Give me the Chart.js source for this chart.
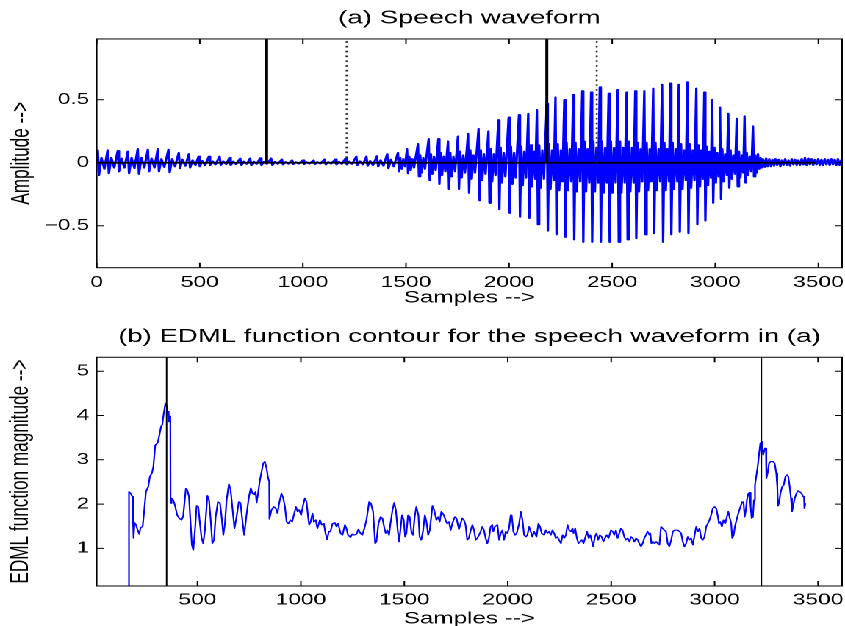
<!DOCTYPE html>
<html>
<head>
<meta charset="utf-8">
<script src="https://cdn.jsdelivr.net/npm/chart.js@4.4.1/dist/chart.umd.min.js"></script>
<style>
  html, body { margin: 0; padding: 0; background: #fff; }
  body { width: 845px; height: 626px; overflow: hidden; position: relative; }
  /* the figure is laid out at 575px and widened to the 845px window */
  #stage { position: absolute; left: 0; top: 0; width: 575px; height: 626px;
           transform: scaleX(1.4696); transform-origin: 0 0; }
  #c1 { position: absolute; left: 0; top: 0; }
  #c2 { position: absolute; left: 0; top: 313px; }
</style>
</head>
<body>
<div id="stage">
  <canvas id="c1" width="575" height="313"></canvas>
  <canvas id="c2" width="575" height="320"></canvas>
</div>
<script>
// ---------- (a) speech waveform: turning points [sample, amplitude] ----------
const waveLeadIn = [
  [0,0.02],
  [5,0.10],[11,-0.10],[23,0.04],[37,-0.05],
  [53,0.10],[59,-0.085],[71,0.04],[85,-0.04],
  [102,0.095],[108,-0.07],[120,0.035],[134,-0.04],
  [151,0.09],[157,-0.085],[169,0.04],[183,-0.045],
  [199,0.11],[205,-0.09],[217,0.04],[231,-0.04],
  [248,0.105],[254,-0.07],[266,0.035],[280,-0.04],
  [296,0.11],[302,-0.07],[314,0.03],[328,-0.035],
  [348,0.105],[354,-0.077],[366,0.03],[380,-0.03],
  [398,0.08],[404,-0.045],[416,0.025],[430,-0.025],
  [447,0.07],[453,-0.04],[465,0.02],[479,-0.02],
  [494,0.05],[500,-0.03],[512,0.015],[526,-0.02],
  [544,0.05],[550,-0.02],[562,0.012],[576,-0.015],
  [596,0.05],[602,-0.02],[614,0.012],[628,-0.012],
  [644,0.04],[650,-0.02],[662,0.01],[676,-0.012],
  [696,0.035],[702,-0.02],[714,0.01],[728,-0.01],
  [744,0.035],[750,-0.02],[762,0.01],[776,-0.01],
  [793,0.037],[799,-0.02],[811,0.008],[825,-0.01],
  [846,0.035],[852,-0.02],[864,0.008],[878,-0.01],
  [898,0.027],[904,-0.015],[916,0.006],[930,-0.008],
  [948,0.02],[954,-0.012],[966,0.005],[980,-0.008],
  [1000,0.02],[1006,-0.012],[1018,0.005],[1032,-0.008],
  [1052,0.02],[1058,-0.012],[1070,0.006],[1084,-0.008],
  [1105,0.027],[1111,-0.015],[1123,0.006],[1137,-0.008],
  [1157,0.027],[1163,-0.015],[1175,0.008],[1189,-0.01],
  [1207,0.035],[1213,-0.015],[1225,0.01],[1239,-0.01],
  [1259,0.05],[1265,-0.02],[1277,0.012],[1291,-0.015],
  [1308,0.05],[1314,-0.025],[1326,0.015],[1340,-0.02],
  [1359,0.053],[1365,-0.03],[1377,0.02],[1391,-0.025],
  [1409,0.07],[1415,-0.045],[1427,0.025],[1441,-0.03]
];
const waveVoiced = [
  [1461,0.08],[1466,-0.07],[1472,0.04],[1479,-0.05],[1487,0.03],[1495,-0.03],
  [1505,0.11],[1510,-0.085],[1516,0.05],[1523,-0.06],[1531,0.03],[1539,-0.04],
  [1558,0.15],[1563,-0.11],[1569,0.06],[1576,-0.08],[1584,0.04],[1592,-0.05],
  [1610,0.19],[1615,-0.14],[1621,0.07],[1628,-0.09],[1636,0.05],[1644,-0.06],
  [1657,0.19],[1662,-0.17],[1668,0.08],[1675,-0.10],[1683,0.05],[1691,-0.07],
  [1704,0.17],[1709,-0.21],[1715,0.08],[1722,-0.11],[1730,0.05],[1738,-0.07],
  [1752,0.21],[1757,-0.21],[1763,0.09],[1770,-0.12],[1778,0.06],[1786,-0.08],
  [1801,0.23],[1806,-0.24],[1812,0.10],[1819,-0.13],[1827,0.06],[1835,-0.08],
  [1852,0.27],[1857,-0.30],[1863,0.10],[1870,-0.14],[1878,0.07],[1886,-0.09],
  [1900,0.25],[1905,-0.32],[1911,0.11],[1918,-0.15],[1926,0.07],[1934,-0.10],
  [1948,0.34],[1953,-0.37],[1959,0.12],[1966,-0.16],[1974,0.08],[1982,-0.11],
  [1998,0.36],[2003,-0.40],[2009,0.13],[2016,-0.17],[2024,0.08],[2032,-0.12],
  [2048,0.38],[2053,-0.43],[2059,0.13],[2066,-0.18],[2074,0.09],[2082,-0.12],
  [2093,0.39],[2098,-0.44],[2104,0.14],[2111,-0.19],[2119,0.09],[2127,-0.13],
  [2135,0.42],[2140,-0.49],[2146,0.14],[2153,-0.20],[2161,0.10],[2169,-0.13],
  [2183,0.47],[2188,-0.54],[2194,0.15],[2201,-0.21],[2209,0.10],[2217,-0.14],
  [2225,0.52],[2230,-0.57],[2236,0.15],[2243,-0.22],[2251,0.10],[2259,-0.15],
  [2268,0.50],[2273,-0.59],[2279,0.16],[2286,-0.22],[2294,0.11],[2302,-0.15],
  [2311,0.54],[2316,-0.61],[2322,0.16],[2329,-0.23],[2337,0.11],[2345,-0.15],
  [2355,0.57],[2360,-0.63],[2366,0.17],[2373,-0.23],[2381,0.11],[2389,-0.16],
  [2398,0.56],[2403,-0.63],[2409,0.17],[2416,-0.23],[2424,0.12],[2432,-0.16],
  [2440,0.60],[2445,-0.63],[2451,0.17],[2458,-0.24],[2466,0.12],[2474,-0.16],
  [2483,0.55],[2488,-0.63],[2494,0.17],[2501,-0.24],[2509,0.12],[2517,-0.16],
  [2527,0.58],[2532,-0.63],[2538,0.17],[2545,-0.24],[2553,0.12],[2561,-0.16],
  [2570,0.56],[2575,-0.61],[2581,0.17],[2588,-0.23],[2596,0.12],[2604,-0.16],
  [2612,0.57],[2617,-0.60],[2623,0.16],[2630,-0.23],[2638,0.11],[2646,-0.15],
  [2656,0.57],[2661,-0.57],[2667,0.16],[2674,-0.22],[2682,0.11],[2690,-0.15],
  [2699,0.59],[2704,-0.56],[2710,0.16],[2717,-0.22],[2725,0.11],[2733,-0.15],
  [2742,0.62],[2747,-0.63],[2753,0.16],[2760,-0.22],[2768,0.11],[2776,-0.15],
  [2782,0.63],[2787,-0.57],[2793,0.16],[2800,-0.21],[2808,0.11],[2816,-0.15],
  [2823,0.62],[2828,-0.55],[2834,0.15],[2841,-0.21],[2849,0.10],[2857,-0.14],
  [2865,0.64],[2870,-0.56],[2876,0.15],[2883,-0.20],[2891,0.10],[2899,-0.14],
  [2908,0.59],[2913,-0.49],[2919,0.14],[2926,-0.19],[2933,0.10],[2940,-0.13],
  [2947,0.56],[2952,-0.46],[2958,0.13],[2965,-0.18],[2972,0.09],[2979,-0.12],
  [2985,0.50],[2990,-0.32],[2996,0.12],[3003,-0.16],[3010,0.08],[3017,-0.11],
  [3023,0.44],[3028,-0.29],[3034,0.11],[3041,-0.15],[3048,0.07],[3056,-0.10],
  [3063,0.39],[3068,-0.20],[3074,0.10],[3081,-0.13],[3088,0.06],[3096,-0.09],
  [3104,0.35],[3109,-0.19],[3115,0.09],[3122,-0.12],[3129,0.06],[3136,-0.08],
  [3142,0.37],[3147,-0.16],[3153,0.08],[3160,-0.10],[3167,0.05],[3175,-0.07],
  [3183,0.29],[3188,-0.11],[3194,0.06],[3201,-0.08],[3207,0.07],[3213,-0.05]
];
const waveTail = [
  [3220,0.04],[3226,-0.04],[3232,0.03],[3240,-0.035],[3247,0.035],[3254,-0.03],
  [3262,0.03],[3270,-0.03],[3277,0.025],[3285,-0.025],[3292,0.03],[3300,-0.02],
  [3308,0.025],[3316,-0.03],[3323,0.02],[3331,-0.02],[3339,0.03],[3347,-0.02],
  [3355,0.02],[3363,-0.025],[3371,0.03],[3379,-0.015],[3387,0.025],[3395,-0.02],
  [3403,0.02],[3411,-0.02],[3419,0.03],[3427,-0.015],[3435,0.04],[3443,-0.02],
  [3451,0.035],[3459,-0.015],[3467,0.03],[3475,-0.02],[3483,0.025],[3491,-0.015],
  [3499,0.03],[3507,-0.02],[3515,0.025],[3523,-0.02],[3531,0.03],[3539,-0.015],
  [3547,0.025],[3555,-0.02],[3563,0.03],[3571,-0.015],[3579,0.025],[3587,-0.02],
  [3595,0.03],[3603,-0.02],[3611,0.02],[3615,0.0]
];
const zeroLineSpan = [0, 3490];          // reference line at amplitude 0
const waveSolidMarks = [824, 2183];      // solid vertical markers
const waveDottedMarks = [1212, 2425];    // dotted vertical markers
const waveXTicks = [0, 500, 1000, 1500, 2000, 2500, 3000, 3500];
const waveYTicks = [-0.5, 0, 0.5];

// ---------- (b) EDML function contour: [sample, magnitude] ----------
const edmlFirstPart = [
  [169,0],[169,2.28],[177,2.24],[185,2.17],[190,1.98],[192,1.23],[196,1.58],[203,1.53],[211,1.41],
  [219,1.32],[225,1.47],[235,1.49],[243,1.87],[251,2.28],[262,2.39],[270,2.62],[280,2.70],[287,2.85],
  [296,3.33],[308,3.39],[316,3.56],[324,3.75],[330,3.79],[336,4.01],[345,4.28],[349,4.26],[356,4.09],
  [361,3.86],[364,3.98],[369,3.99],[370,2.02],[375,2.13],[383,2.09],[391,1.98],[402,1.75],[412,1.68],
  [423,1.64],[431,1.72],[444,2.35],[451,2.32],[459,2.17],[467,1.56],[473,1.08],[480,0.96],[488,1.41],
  [496,1.96],[504,1.94],[512,1.56],[520,1.23],[528,1.11],[536,1.41],[548,2.19],[556,2.09],[564,1.64],
  [572,1.11],[580,1.19],[588,1.71],[599,2.05],[609,2.02],[617,1.71],[625,1.30],[633,1.56],[641,2.09],
  [652,2.45],[660,2.33],[670,1.87],[679,1.45],[689,1.71],[700,2.05],[708,2.03],[718,1.60],[726,1.30],
  [737,1.75],[749,2.17],[758,2.36],[766,2.24],[774,2.21],[781,2.28],[786,2.03],[793,2.24],[802,2.54],
  [810,2.73],[818,2.92],[826,2.96],[834,2.81],[842,2.58],[847,2.51],[848,1.66],[858,1.87],[869,1.94],
  [879,1.90],[887,1.79],[895,2.02],[906,2.24],[915,2.13],[923,1.94],[931,1.60],[940,1.56],[950,1.64],
  [958,1.60],[966,1.75],[976,1.94],[984,1.83],[992,1.87],[1001,1.75],[1011,1.98],[1019,2.13],[1027,2.06],
  [1035,1.71],[1040,1.53],[1047,1.60],[1056,1.79],[1063,1.60],[1072,1.64],[1080,1.45],[1092,1.64],
  [1101,1.53],[1111,1.56],[1119,1.34],[1127,1.20],[1135,1.38],[1143,1.38],[1153,1.56],[1164,1.58],
  [1172,1.49],[1180,1.56],[1192,1.34],[1201,1.30],[1213,1.53],[1220,1.45],[1228,1.30],[1240,1.25],
  [1248,1.32],[1257,1.30],[1269,1.32],[1278,1.43],[1288,1.34],[1297,1.30],[1307,1.45],[1317,1.64],
  [1330,2.05],[1338,2.02],[1349,1.83],[1359,1.11],[1365,1.15],[1375,1.56],[1385,1.71],[1394,1.68],
  [1404,1.45],[1410,1.34],[1418,1.41],[1426,1.30],[1433,1.56],[1443,1.87],[1451,2.03],[1459,1.87],
  [1468,1.41],[1475,1.15],[1481,1.41],[1489,1.75],[1497,1.64],[1504,1.26],[1510,1.34],[1518,1.75],
  [1526,1.71],[1534,1.38],[1542,1.30],[1550,1.71],[1558,1.94],[1568,1.75],[1574,1.26],[1582,1.19],
  [1591,1.41],[1599,1.75],[1607,1.60],[1615,1.30],[1623,1.41],[1636,1.96],[1644,1.87],[1655,1.64],
  [1663,1.71],[1671,1.60],[1679,1.83],[1691,1.75],[1699,1.64],[1707,1.56],[1716,1.60],[1724,1.41],
  [1732,1.56],[1744,1.71],[1752,1.68]
];
const edmlSecondPart = [
  [1764,1.43],[1772,1.56],[1780,1.68],[1788,1.64],[1796,1.53],[1804,1.19],[1812,1.23],[1821,1.41],
  [1829,1.53],[1837,1.41],[1845,1.19],[1853,1.23],[1861,1.30],[1869,1.38],[1877,1.49],[1885,1.41],
  [1893,1.23],[1901,1.11],[1909,1.23],[1917,1.49],[1925,1.53],[1930,1.38],[1938,1.49],[1950,1.53],
  [1958,1.19],[1966,1.34],[1974,1.41],[1982,1.19],[1990,1.38],[1998,1.34],[2006,1.45],[2014,1.75],
  [2019,1.75],[2027,1.38],[2035,1.30],[2043,1.34],[2055,1.56],[2063,1.83],[2071,1.64],[2079,1.30],
  [2087,1.26],[2095,1.30],[2103,1.49],[2111,1.38],[2119,1.26],[2127,1.38],[2139,1.26],[2148,1.56],
  [2156,1.49],[2164,1.34],[2176,1.30],[2184,1.41],[2192,1.34],[2200,1.38],[2208,1.30],[2216,1.41],
  [2224,1.34],[2232,1.23],[2240,1.26],[2248,1.19],[2257,1.11],[2265,1.30],[2273,1.23],[2281,1.30],
  [2289,1.53],[2297,1.41],[2305,1.38],[2313,1.45],[2318,1.34],[2326,1.45],[2334,1.23],[2342,1.11],
  [2350,1.15],[2358,1.19],[2366,1.11],[2374,1.23],[2383,1.38],[2391,1.23],[2399,1.30],[2407,1.15],
  [2413,1.04],[2421,1.26],[2429,1.34],[2437,1.19],[2445,1.30],[2454,1.26],[2462,1.15],[2470,1.23],
  [2478,1.30],[2487,1.23],[2499,1.41],[2507,1.38],[2515,1.30],[2523,1.41],[2531,1.23],[2539,1.34],
  [2547,1.45],[2555,1.41],[2563,1.26],[2571,1.19],[2580,1.23],[2588,1.15],[2596,1.26],[2604,1.23],
  [2612,1.15],[2620,1.23],[2628,1.19],[2636,1.11],[2644,1.04],[2652,1.11],[2660,1.23],[2668,1.30],
  [2676,1.38],[2685,1.30],[2689,1.34],[2694,1.11],[2701,1.15],[2709,1.11],[2717,1.15],[2725,1.11],
  [2733,1.08],[2741,1.49],[2749,1.45],[2757,1.41],[2765,1.38],[2773,1.11],[2781,1.04],[2790,1.19],
  [2798,1.38],[2806,1.41],[2814,1.41],[2822,1.41],[2830,1.38],[2838,1.34],[2846,1.15],[2854,1.04],
  [2862,1.11],[2870,1.26],[2878,1.19],[2886,1.23],[2895,1.08],[2903,1.30],[2911,1.49],[2919,1.38],
  [2927,1.45],[2935,1.23],[2943,1.19],[2951,1.26],[2959,1.49],[2967,1.56],[2975,1.64],[2983,1.75],
  [2991,1.90],[2999,1.94],[3008,1.90],[3016,1.71],[3021,1.56],[3027,1.60],[3035,1.49],[3043,1.64],
  [3051,1.56],[3059,1.71],[3066,1.83],[3072,1.71],[3080,1.56],[3085,1.23],[3092,1.30],[3098,1.49],
  [3108,1.68],[3117,1.83],[3125,1.94],[3133,2.05],[3140,2.02],[3145,1.71],[3150,1.83],[3156,2.09],
  [3163,2.24],[3169,2.26],[3174,1.94],[3179,1.68],[3185,1.71],[3190,2.09],[3195,2.43],[3201,2.62],
  [3209,2.88],[3216,3.18],[3221,3.37],[3226,3.41],[3230,3.26],[3235,3.11],[3240,3.22],[3243,3.26],
  [3248,3.26],[3250,2.58],[3256,2.70],[3263,2.92],[3271,2.96],[3282,2.96],[3290,2.92],[3298,2.70],
  [3303,2.39],[3306,1.96],[3311,2.02],[3318,2.24],[3326,2.39],[3334,2.43],[3342,2.62],[3350,2.66],
  [3356,2.62],[3363,2.39],[3369,2.13],[3374,1.83],[3379,1.94],[3387,2.13],[3395,2.24],[3403,2.30],
  [3411,2.28],[3420,2.24],[3428,2.17],[3432,2.17],[3434,1.90],[3439,2.02]
];
const edmlMarks = [351, 3226];
const edmlXTicks = [500, 1000, 1500, 2000, 2500, 3000, 3500];
const edmlYTicks = [1, 2, 3, 4, 5];

// ---------- shared styling ----------
const FONT = "'Liberation Sans', Arial, Helvetica, sans-serif";
Chart.defaults.font.family = FONT;
Chart.defaults.color = '#000';

const plainLabel = v => String(v);
const minusLabel = v => (v < 0 ? '\u2212' + (-v) : String(v));

// MATLAB-like axes: closed box with inward ticks on all four sides
const boxAxes = {
  id: 'boxAxes',
  afterDatasetsDraw(chart) {
    const { ctx, chartArea: a, scales: { x, y } } = chart;
    ctx.save();
    ctx.strokeStyle = '#000';
    ctx.lineWidth = 1;
    ctx.beginPath();
    x.ticks.forEach(t => {
      const px = x.getPixelForValue(t.value);
      ctx.moveTo(px, a.bottom); ctx.lineTo(px, a.bottom - 5);
      ctx.moveTo(px, a.top); ctx.lineTo(px, a.top + 5);
    });
    y.ticks.forEach(t => {
      const py = y.getPixelForValue(t.value);
      ctx.moveTo(a.left, py); ctx.lineTo(a.left + 5, py);
      ctx.moveTo(a.right, py); ctx.lineTo(a.right - 5, py);
    });
    ctx.stroke();
    ctx.strokeRect(a.left, a.top, a.right - a.left, a.bottom - a.top);
    ctx.restore();
  }
};

// fixed axis bands; label overhang is allowed so the plot box keeps its size
function fitX(height) {
  return s => { s.height = height; s.paddingLeft = 0; s.paddingRight = 0; };
}
function fitY(width) {
  return s => { s.width = width; s.paddingTop = 0; s.paddingBottom = 0; };
}

function axisOptions(o) {
  return {
    x: {
      type: 'linear', min: o.xMin, max: o.xMax,
      grid: { display: false, drawTicks: false }, border: { display: false },
      afterBuildTicks: s => { s.ticks = o.xTicks.map(v => ({ value: v })); },
      afterFit: fitX(o.xAxisHeight),
      ticks: { font: { size: 15.5 }, padding: o.xTickPad, maxRotation: 0, autoSkip: false,
               color: '#000', callback: plainLabel },
      title: { display: true, text: 'Samples -->', color: '#000',
               font: { size: 16.5 }, padding: { top: 0, bottom: o.xTitlePad } }
    },
    y: {
      type: 'linear', min: o.yMin, max: o.yMax,
      grid: { display: false, drawTicks: false }, border: { display: false },
      afterBuildTicks: s => { s.ticks = o.yTicks.map(v => ({ value: v })); },
      afterFit: fitY(65.8),
      ticks: { font: { size: 15.5 }, padding: 5, autoSkip: false, color: '#000', callback: minusLabel },
      title: { display: true, text: o.yTitle, color: '#000',
               font: { size: 17.2 }, padding: { top: o.yTitlePad, bottom: 0 } }
    }
  };
}

function baseOptions(title, titlePad, scales) {
  return {
    responsive: false, animation: false, devicePixelRatio: 2, events: [],
    layout: { padding: { left: 0, right: 2, top: 0, bottom: 0 } },
    elements: { point: { radius: 0 }, line: { tension: 0, borderJoinStyle: 'round', borderCapStyle: 'butt' } },
    plugins: {
      legend: { display: false }, tooltip: { enabled: false },
      title: { display: true, text: title, fullSize: false, color: '#000',
               font: { size: 18.8, weight: 'normal' }, padding: titlePad }
    },
    scales
  };
}

const WAVE_Y_MAX = 0.982, WAVE_Y_MIN = -0.833;
const EDML_Y_MAX = 5.317, EDML_Y_MIN = 0.149;

// ---------- (a) ----------
new Chart(document.getElementById('c1'), {
  type: 'line',
  data: {
    datasets: [
      ...waveSolidMarks.map(m => ({
        data: [[m, 0], [m, 1.2]], borderColor: '#000', borderWidth: 2, clip: 0, order: 1
      })),
      ...waveDottedMarks.map(m => ({
        data: [[m, 0], [m, 1.2]], borderColor: '#222', borderWidth: 1.3,
        borderDash: [1.6, 3.2], clip: 0, order: 1
      })),
      { data: zeroLineSpan.map(x => [x, 0]), borderColor: '#000', borderWidth: 1.8, clip: 0, order: 2 },
      { data: [...waveLeadIn, ...waveVoiced, ...waveTail], borderColor: '#0000ff',
        borderWidth: 1.6, clip: 0, order: 3 }
    ]
  },
  options: baseOptions('(a) Speech waveform', { top: 6.8, bottom: 9.6 },
    axisOptions({
      xMin: 0, xMax: 3615, xTicks: waveXTicks, xAxisHeight: 45.3, xTickPad: 5.5, xTitlePad: 5,
      yMin: WAVE_Y_MIN, yMax: WAVE_Y_MAX, yTicks: waveYTicks, yTitle: 'Amplitude -->', yTitlePad: 4.6
    })),
  plugins: [boxAxes]
});

// ---------- (b) ----------
new Chart(document.getElementById('c2'), {
  type: 'line',
  data: {
    datasets: [
      ...edmlMarks.map(m => ({
        data: [[m, 0], [m, 6]], borderColor: '#000', borderWidth: 1, clip: 0, order: 1
      })),
      { data: [...edmlFirstPart, ...edmlSecondPart], borderColor: '#0000ff',
        borderWidth: 1.1, clip: 0, order: 2 }
    ]
  },
  options: baseOptions('(b) EDML function contour for the speech waveform in (a)', { top: 12.7, bottom: 9.0 },
    axisOptions({
      xMin: 13, xMax: 3616, xTicks: edmlXTicks, xAxisHeight: 47, xTickPad: 5, xTitlePad: 4,
      yMin: EDML_Y_MIN, yMax: EDML_Y_MAX, yTicks: edmlYTicks, yTitle: 'EDML function magnitude -->', yTitlePad: 4
    })),
  plugins: [boxAxes]
});
</script>
</body>
</html>
